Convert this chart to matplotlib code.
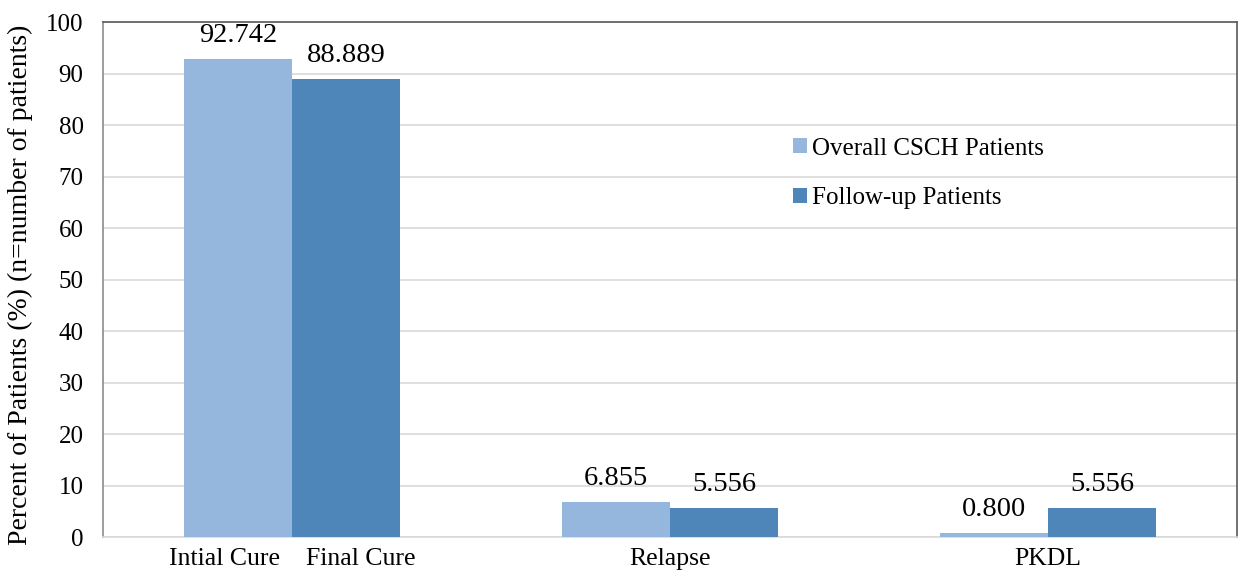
import numpy as np
import matplotlib
matplotlib.use("Agg")
import matplotlib.pyplot as plt

# Chart data
categories = ["Intial Cure    Final Cure", "Relapse", "PKDL"]
overall_csch = [92.742, 6.855, 0.800]
follow_up = [88.889, 5.556, 5.556]
y_ticks = [0, 10, 20, 30, 40, 50, 60, 70, 80, 90, 100]

plt.rcParams['font.family'] = ['Liberation Serif', 'DejaVu Serif']

light_blue = '#95B7DD'
dark_blue = '#4F86BA'

fig = plt.figure(figsize=(12.4, 5.73), dpi=100)
ax = fig.add_axes([0.0831, 0.0628, 0.9145, 0.8988])

x = np.arange(len(categories))
width = 0.285

bars1 = ax.bar(x - width / 2, overall_csch, width, color=light_blue,
               label='Overall CSCH Patients', zorder=3)
bars2 = ax.bar(x + width / 2, follow_up, width, color=dark_blue,
               label='Follow-up Patients', zorder=3)

# value labels above the bars
ax.bar_label(bars1, labels=[f'{v:.3f}' for v in overall_csch], padding=8, fontsize=20.5)
ax.bar_label(bars2, labels=[f'{v:.3f}' for v in follow_up], padding=8, fontsize=20.5)

ax.set_xlim(-0.5, len(categories) - 0.5)
ax.set_ylim(0, 100)
ax.set_yticks(y_ticks)
ax.set_xticks(x)
ax.set_xticklabels(categories)
ax.tick_params(axis='both', length=0)
ax.tick_params(axis='y', pad=14, labelsize=18)
ax.tick_params(axis='x', pad=8, labelsize=18.5)

ax.yaxis.grid(True, color='#D9D9D9', linewidth=1.2, zorder=0)
ax.set_axisbelow(True)

ax.spines['left'].set_color('#8C8C8C')
ax.spines['bottom'].set_color('#D9D9D9')
ax.spines['top'].set_color('#595959')
ax.spines['right'].set_color('#595959')
for s in ax.spines.values():
    s.set_linewidth(1.2)

ax.set_ylabel('Percent of Patients (%) (n=number of patients)', fontsize=20)
ax.yaxis.set_label_coords(-0.062, 0.49)

ax.legend(loc='upper left', bbox_to_anchor=(0.6, 0.795), frameon=False,
          fontsize=18, handlelength=0.55, handleheight=0.55, handletextpad=0.2,
          labelspacing=1.1, borderaxespad=0)

fig.savefig('out.png', dpi=100)
